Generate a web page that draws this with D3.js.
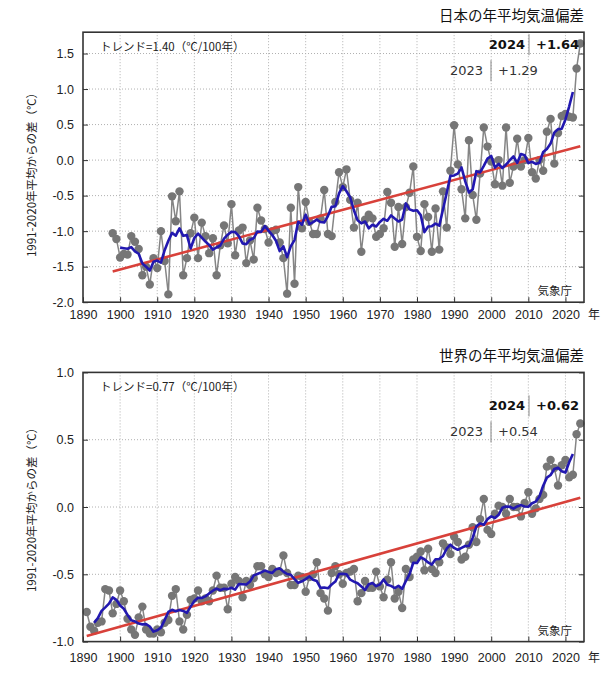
<!DOCTYPE html>
<html><head><meta charset="utf-8">
<script src="https://cdn.jsdelivr.net/npm/d3@7"></script>
<style>body{margin:0;background:#fff}</style>
</head><body>
<svg id="c" width="606" height="674"></svg>
<script>
// ---------- DATA ----------
const japanStartYear = 1898;
const japanValues = [
 -1.03,-1.11,-1.37,-1.32,-1.33,-1.07,-1.15,-1.25,-1.62,-1.50,
 -1.75,-1.38,-1.52,-1.00,-1.42,-1.89,-0.51,-0.86,-0.44,-1.62,
 -1.38,-1.03,-0.81,-1.38,-0.88,-1.07,-1.31,-1.10,-1.62,-1.20,
 -0.92,-1.17,-0.62,-1.34,-0.99,-0.95,-1.45,-1.13,-1.40,-0.67,
 -0.85,-0.97,-1.16,-1.00,-0.98,-1.16,-1.38,-1.88,-0.67,-1.74,
 -0.38,-0.96,-0.59,-0.87,-1.04,-1.04,-0.82,-0.42,-1.04,-1.07,
 -0.59,-0.17,-0.38,-0.13,-0.56,-0.95,-0.60,-1.29,-0.84,-0.77,
 -0.82,-1.08,-1.04,-0.96,-0.45,-0.60,-1.22,-0.66,-1.18,-0.66,
 -0.46,-0.09,-1.08,-1.28,-0.62,-0.80,-1.29,-0.68,-1.26,-0.44,
 -0.95,-0.15, 0.49,-0.06,-0.41,-0.82, 0.28,-0.49,-0.84,-0.19,
  0.46, 0.19,-0.02,-0.34, 0.00,-0.36, 0.46,-0.32,-0.09, 0.30,
 -0.09, 0.00, 0.31,-0.17,-0.26, 0.00,-0.15, 0.40, 0.58,-0.05,
  0.38, 0.62, 0.65, 0.61, 0.60, 1.29, 1.64
];
const worldStartYear = 1891;
const worldValues = [
 -0.78,-0.89,-0.92,-0.86,-0.85,-0.61,-0.62,-0.79,-0.72,-0.62,
 -0.70,-0.83,-0.91,-0.95,-0.82,-0.74,-0.91,-0.94,-0.94,-0.91,
 -0.93,-0.86,-0.84,-0.66,-0.61,-0.85,-0.91,-0.80,-0.69,-0.68,
 -0.62,-0.70,-0.68,-0.70,-0.62,-0.51,-0.60,-0.60,-0.76,-0.57,
 -0.52,-0.55,-0.67,-0.55,-0.58,-0.53,-0.44,-0.44,-0.50,-0.52,
 -0.46,-0.49,-0.48,-0.36,-0.49,-0.58,-0.58,-0.51,-0.52,-0.63,
 -0.52,-0.50,-0.41,-0.64,-0.68,-0.77,-0.49,-0.44,-0.50,-0.57,
 -0.49,-0.48,-0.46,-0.70,-0.64,-0.55,-0.60,-0.60,-0.48,-0.59,
 -0.67,-0.54,-0.41,-0.68,-0.63,-0.75,-0.46,-0.52,-0.39,-0.37,
 -0.33,-0.47,-0.31,-0.46,-0.49,-0.41,-0.27,-0.30,-0.35,-0.22,
 -0.26,-0.39,-0.37,-0.28,-0.15,-0.26,-0.09, 0.06,-0.17,-0.20,
 -0.05, 0.01, 0.00,-0.05, 0.06, 0.00, 0.00,-0.07, 0.03, 0.11,
 -0.05,-0.01, 0.06, 0.09, 0.30, 0.35, 0.29, 0.16, 0.31, 0.35,
  0.22, 0.24, 0.54, 0.62
];
const xTickYears = [1890,1900,1910,1920,1930,1940,1950,1960,1970,1980,1990,2000,2010,2020];
const japanYTicks = [-2.0,-1.5,-1.0,-0.5,0.0,0.5,1.0,1.5];
const worldYTicks = [-1.0,-0.5,0.0,0.5,1.0];
const japanTitle = "日本の年平均気温偏差";
const worldTitle = "世界の年平均気温偏差";
const japanTrendText = "トレンド=1.40（℃/100年）";
const worldTrendText = "トレンド=0.77（℃/100年）";
const japanLatest = {year:"2024", value:"+1.64", prevYear:"2023", prevValue:"+1.29"};
const worldLatest = {year:"2024", value:"+0.62", prevYear:"2023", prevValue:"+0.54"};
const yAxisLabel = "1991-2020年平均からの差（℃）";
const sourceText = "気象庁";
const yearUnit = "年";

// ---------- DRAW ----------
const svg = d3.select("#c");
const L = 83, R = 584;
const x = d3.scaleLinear().domain([1890, 2025]).range([L, R]);

function panel(o){
  const g = svg.append("g");
  const y = d3.scaleLinear().domain(o.yDomain).range([o.bottom, o.top]);
  const years = d3.range(o.values.length).map(i => o.start + i);
  const pts = years.map((yr,i)=>({yr, v:o.values[i]}));

  // grid
  g.append("g").selectAll("line").data(xTickYears.filter(d=>d>1890)).join("line")
    .attr("x1",d=>x(d)).attr("x2",d=>x(d)).attr("y1",o.top).attr("y2",o.bottom)
    .attr("stroke","#b0b0b0").attr("stroke-width",1).attr("stroke-dasharray","1,2");
  g.append("g").selectAll("line").data(o.yTicks.filter(d=>d>o.yDomain[0] && d<o.yDomain[1])).join("line")
    .attr("x1",L).attr("x2",R).attr("y1",d=>y(d)).attr("y2",d=>y(d))
    .attr("stroke","#b0b0b0").attr("stroke-width",1).attr("stroke-dasharray","1,2");

  // axes
  const ax = g.append("g").attr("transform",`translate(${L},0)`)
    .call(d3.axisLeft(y).tickValues(o.yTicks).tickSize(-5).tickPadding(9).tickFormat(d=>d.toFixed(1)));
  const axr = g.append("g").attr("transform",`translate(${R},0)`)
    .call(d3.axisRight(y).tickValues(o.yTicks).tickSize(-5).tickFormat(""));
  const axb = g.append("g").attr("transform",`translate(0,${o.bottom})`)
    .call(d3.axisBottom(x).tickValues(xTickYears).tickSize(-5).tickPadding(o.xPad).tickFormat(d3.format("d")));
  [ax,axr,axb].forEach(a=>{
    a.select(".domain").remove();
    a.selectAll(".tick line").attr("stroke","#333");
    a.selectAll("text").attr("font-family","Liberation Sans, Arial, sans-serif")
      .attr("font-size",12.5).attr("fill","#222");
  });
  g.append("text").attr("x",594).attr("y",o.bottom+o.xPad+8.5).attr("text-anchor","middle")
    .attr("font-family","Noto Sans CJK JP").attr("font-size",12).attr("fill","#222").text(yearUnit);

  // gray line and points
  const line = d3.line().x(d=>x(d.yr)).y(d=>y(d.v));
  g.append("path").datum(pts).attr("d",line).attr("fill","none")
    .attr("stroke","#858585").attr("stroke-width",1.5);
  g.append("g").selectAll("circle").data(pts).join("circle")
    .attr("cx",d=>x(d.yr)).attr("cy",d=>y(d.v)).attr("r",4.2).attr("fill","#767676");

  // trend (least squares)
  const mx = d3.mean(pts,d=>d.yr), my = d3.mean(pts,d=>d.v);
  const b = d3.sum(pts,d=>(d.yr-mx)*(d.v-my))/d3.sum(pts,d=>(d.yr-mx)**2);
  const tr = [years[0], years[years.length-1]].map(yr=>({yr, v: my + b*(yr-mx)}));
  g.append("path").datum(tr).attr("d",line).attr("fill","none")
    .attr("stroke","#d8413a").attr("stroke-width",2.6);

  // 5-year running mean
  const rm = [];
  for(let i=2;i<pts.length-2;i++) rm.push({yr:pts[i].yr, v:d3.mean(pts.slice(i-2,i+3),d=>d.v)});
  g.append("path").datum(rm).attr("d",line).attr("fill","none")
    .attr("stroke","#2218b0").attr("stroke-width",2.6).attr("stroke-linejoin","round");

  // frame
  g.append("rect").attr("x",L).attr("y",o.top).attr("width",R-L).attr("height",o.bottom-o.top)
    .attr("fill","none").attr("stroke","#333").attr("stroke-width",1.6);

  // texts
  const jp = "Noto Sans CJK JP, sans-serif";
  g.append("text").attr("x",R).attr("y",o.top-11).attr("text-anchor","end")
    .attr("font-family",jp).attr("font-size",14.5).attr("fill","#111").text(o.title);
  g.append("text").attr("x",100).attr("y",o.top+18.5)
    .attr("font-family",jp).attr("font-size",11.5).attr("fill","#222").text(o.trend);
  const f = "DejaVu Sans, Verdana, sans-serif";
  g.append("text").attr("x",525).attr("y",o.top+o.latestDy).attr("text-anchor","end")
    .attr("font-family",f).attr("font-weight","bold").attr("font-size",13).attr("fill","#111").text(o.latest.year);
  g.append("line").attr("x1",529).attr("x2",529).attr("y1",o.top+o.latestDy-15).attr("y2",o.top+o.latestDy+6)
    .attr("stroke","#888").attr("stroke-width",1);
  g.append("text").attr("x",536).attr("y",o.top+o.latestDy)
    .attr("font-family",f).attr("font-weight","bold").attr("font-size",13).attr("fill","#111").text(o.latest.value);
  g.append("text").attr("x",483).attr("y",o.top+o.latestDy+26).attr("text-anchor","end")
    .attr("font-family",f).attr("font-size",13).attr("fill","#333").text(o.latest.prevYear);
  g.append("line").attr("x1",491).attr("x2",491).attr("y1",o.top+o.latestDy+11).attr("y2",o.top+o.latestDy+32)
    .attr("stroke","#888").attr("stroke-width",1);
  g.append("text").attr("x",498).attr("y",o.top+o.latestDy+26)
    .attr("font-family",f).attr("font-size",13).attr("fill","#333").text(o.latest.prevValue);
  g.append("text").attr("x",572).attr("y",o.bottom-7).attr("text-anchor","end")
    .attr("font-family",jp).attr("font-size",11.5).attr("fill","#222").text(sourceText);
  g.append("text").attr("transform",`translate(36,${o.labelY}) rotate(-90)`).attr("text-anchor","middle")
    .attr("font-family",jp).attr("font-size",11.5).attr("fill","#222").text(yAxisLabel);
}

panel({start:japanStartYear, values:japanValues, yDomain:[-2.0,1.8], yTicks:japanYTicks,
  top:32.2, bottom:302.2, title:japanTitle, trend:japanTrendText, latest:japanLatest, latestDy:17, labelY:172, xPad:8});
panel({start:worldStartYear, values:worldValues, yDomain:[-1.0,1.0], yTicks:worldYTicks,
  top:372.4, bottom:641.6, title:worldTitle, trend:worldTrendText, latest:worldLatest, latestDy:38, labelY:507, xPad:12});
</script>
</body></html>
